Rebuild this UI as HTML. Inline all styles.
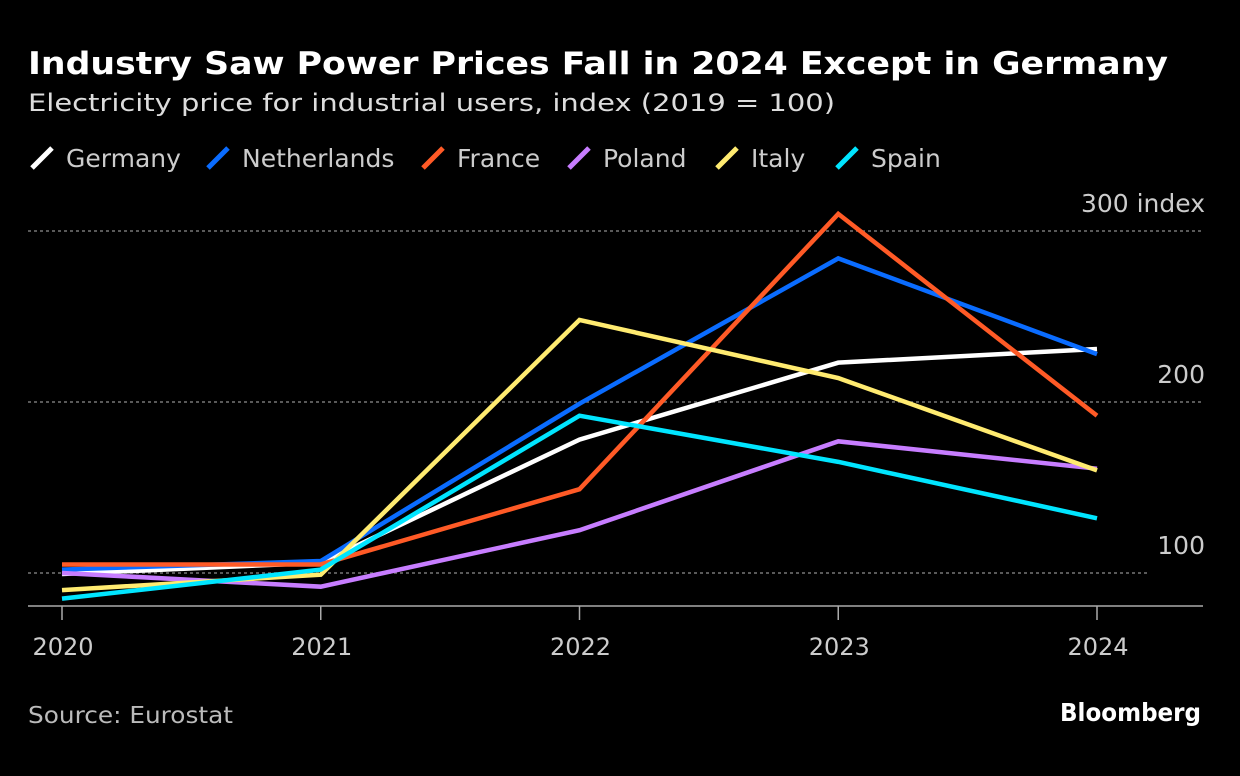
<!DOCTYPE html>
<html><head><meta charset="utf-8"><style>
body{margin:0;background:#000;width:1240px;height:772px;overflow:hidden;font-family:"DejaVu Sans","Liberation Sans",sans-serif;}
</style></head><body>
<svg width="1240" height="772" xmlns="http://www.w3.org/2000/svg" font-family="DejaVu Sans, Liberation Sans, sans-serif">
<text x="28" y="74" fill="#fff" font-size="31" font-weight="bold" textLength="1140" lengthAdjust="spacingAndGlyphs">Industry Saw Power Prices Fall in 2024 Except in Germany</text>
<text x="28" y="111" fill="#ddd" font-size="24" textLength="807" lengthAdjust="spacingAndGlyphs">Electricity price for industrial users, index (2019 = 100)</text>
<g id="legend"></g>
<g id="grid"></g>
<g id="series"></g>
<g id="xaxis"></g>
<text x="28" y="723" fill="#bbb" font-size="23" textLength="205" lengthAdjust="spacingAndGlyphs">Source: Eurostat</text>
<text x="1201" y="721" fill="#fff" font-size="25" font-weight="bold" text-anchor="end" textLength="141" lengthAdjust="spacingAndGlyphs">Bloomberg</text>
</svg>
<script>
const years=["2020","2021","2022","2023","2024"];
const names=["Germany","Netherlands","France","Poland","Italy","Spain"];
const colors=["#ffffff","#0a6cff","#ff5a26","#c77dff","#ffeb70","#00e5ff"];
const germany=[99.4,106,178,223,231];
const netherlands=[102,107,199,284,228];
const france=[105,105,149,310,192];
const poland=[100,92,125,177,161];
const italy=[90,99,248,214,160];
const spain=[85,102,192,165,132];
const yTicks=[100,200,300];
const yLabels=["100","200","300 index"];
const series=[germany,netherlands,france,poland,italy,spain];
const NS="http://www.w3.org/2000/svg";
const X=i=>62+i*258.75;
const Y=v=>573-(v-100)*1.71;
function mk(t,a,p){const e=document.createElementNS(NS,t);for(const k in a)e.setAttribute(k,a[k]);p.appendChild(e);return e;}
const grid=document.getElementById('grid');
yTicks.forEach((v,i)=>{
 const l=mk('line',{x1:28,x2:i==0?1148:1203,y1:Y(v),y2:Y(v),stroke:'#777','stroke-width':1.5,'stroke-dasharray':'3,3'},grid);
 
 
 const t=mk('text',{x:1205,y:Y(v)-19,fill:'#ccc','font-size':25,'text-anchor':'end'},grid);
 t.textContent=yLabels[i];
 
 
});
const xa=document.getElementById('xaxis');
mk('line',{x1:28,x2:1203,y1:606,y2:606,stroke:'#aaa','stroke-width':1.5},xa);
years.forEach((y,i)=>{
 mk('line',{x1:X(i),x2:X(i),y1:606,y2:620,stroke:'#aaa','stroke-width':1.5},xa);
 const t=mk('text',{x:X(i)+1,y:655,fill:'#ccc','font-size':24,'text-anchor':'middle'},xa);
 t.textContent=y;
 
 
});
const sg=document.getElementById('series');
series.forEach((d,s)=>{
 const p=mk('polyline',{points:d.map((v,i)=>X(i)+','+Y(v)).join(' '),fill:'none',stroke:colors[s],'stroke-width':4.5,'stroke-linejoin':'miter'},sg);
 
 
});
const lg=document.getElementById('legend');
const legX=[30,206,421,567,715,835];
names.forEach((n,s)=>{
 const g=mk('g',{},lg);
 
 
 const lx=legX[s];
 mk('line',{x1:lx+2,y1:168,x2:lx+22,y2:148,stroke:colors[s],'stroke-width':5},g);
 const t=mk('text',{x:lx+36,y:167,fill:'#ccc','font-size':25},g);
 t.textContent=n;
});
</script>
</body></html>
